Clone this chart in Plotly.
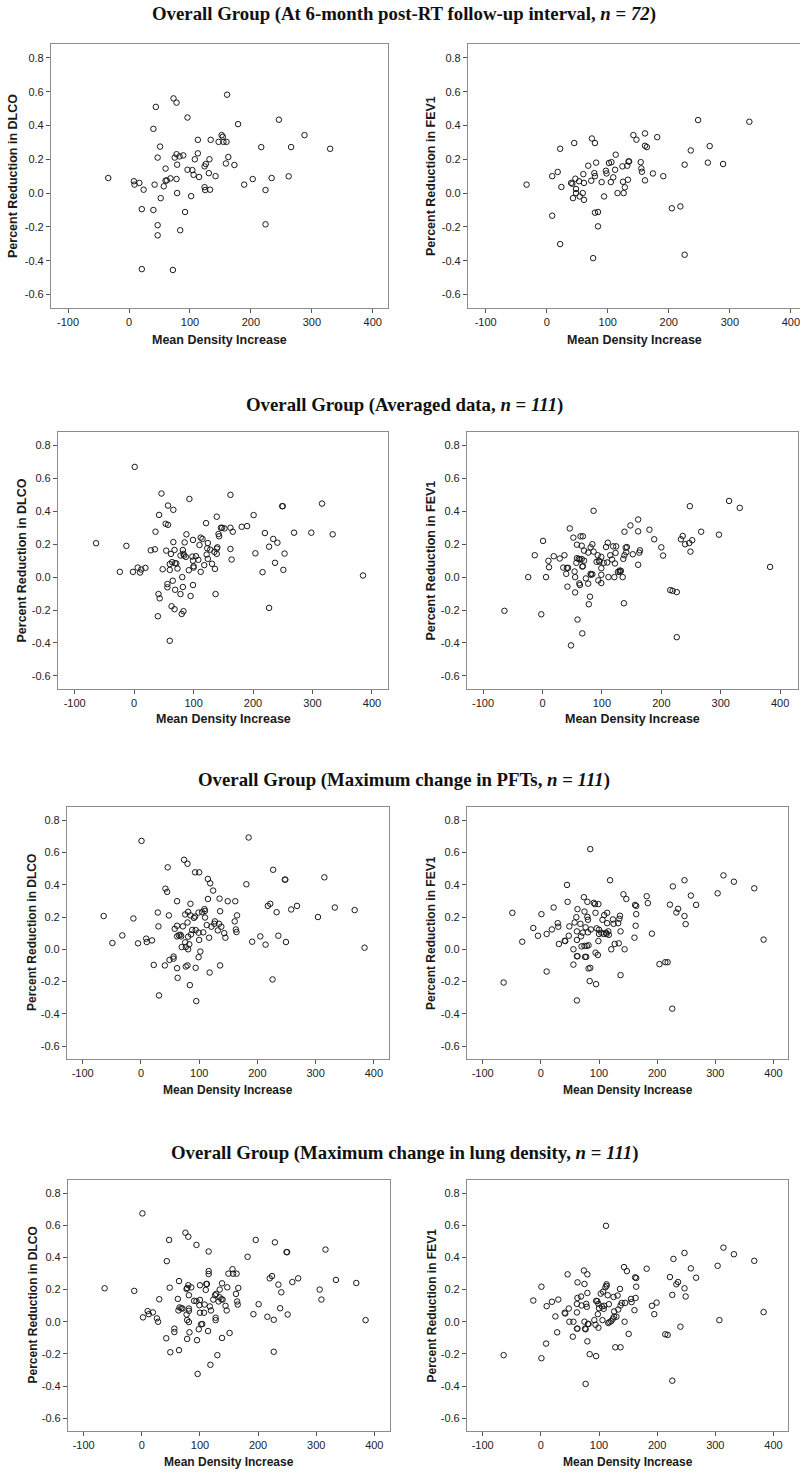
import plotly.graph_objects as go

# ---------------- data ----------------
x_ticks = [-100, 0, 100, 200, 300, 400]
x_tick_labels = ["-100", "0", "100", "200", "300", "400"]
y_ticks = [-0.6, -0.4, -0.2, 0.0, 0.2, 0.4, 0.6, 0.8]
y_tick_labels = ["-0.6", "-0.4", "-0.2", "0.0", "0.2", "0.4", "0.6", "0.8"]

x_label = "Mean Density Increase"
y_label_dlco = "Percent Reduction in DLCO"
y_label_fev1 = "Percent Reduction in FEV1"

row_titles = [
    "Overall Group (At 6-month post-RT follow-up interval, <i>n</i> = <i>72</i>)",
    "Overall Group (Averaged data, <i>n</i> = <i>111</i>)",
    "Overall Group (Maximum change in PFTs, <i>n</i> = <i>111</i>)",
    "Overall Group (Maximum change in lung density, <i>n</i> = <i>111</i>)",
]

# Row 1: 6-month follow-up, DLCO
six_month_dlco = [
    (-34, 0.089), (8, 0.07), (9, 0.05), (17, 0.06), (24, 0.02), (21, -0.095), (21, -0.45),
    (40, 0.38), (44, 0.51), (40, -0.1), (42, 0.05), (47, 0.21), (51, 0.275), (47, -0.19),
    (47, -0.25), (52, -0.03), (60, 0.145), (57, 0.04), (60, 0.073), (62, 0.075), (68, 0.087),
    (73, 0.56), (78, 0.535), (72, -0.455), (75, 0.21), (78, 0.23), (79, 0.168), (78, 0.083),
    (79, 0.0), (83, 0.217), (89, 0.223), (84, -0.22), (92, -0.112), (96, 0.447), (96, 0.138),
    (102, -0.018), (104, 0.136), (106, 0.108), (108, 0.2), (113, 0.235), (113, 0.315),
    (115, 0.095), (124, 0.158), (126, 0.172), (124, 0.035), (125, 0.018), (131, 0.118),
    (132, 0.2), (134, 0.315), (133, 0.02), (142, 0.1), (147, 0.303), (152, 0.343), (154, 0.333),
    (155, 0.303), (160, 0.303), (161, 0.582), (159, 0.175), (163, 0.213), (173, 0.166),
    (179, 0.408), (189, 0.05), (203, 0.083), (217, 0.272), (224, 0.018), (224, -0.185),
    (234, 0.089), (246, 0.434), (262, 0.099), (266, 0.272), (288, 0.343), (330, 0.262),
]

# Row 1: 6-month follow-up, FEV1
six_month_fev1 = [
    (-33, 0.05), (9, -0.134), (9, 0.1), (18, 0.125), (22, 0.262), (22, -0.302), (24, 0.036),
    (40, 0.06), (42, 0.055), (43, -0.03), (45, 0.296), (47, 0.085), (48, 0.024), (48, 0.0),
    (53, 0.07), (54, -0.02), (59, 0.0), (60, 0.112), (61, 0.06), (61, -0.04), (68, 0.162),
    (73, 0.073), (74, 0.323), (76, -0.385), (79, 0.296), (78, 0.118), (79, 0.1), (81, 0.18),
    (79, -0.116), (84, -0.112), (84, -0.197), (90, 0.065), (94, -0.02), (97, 0.132),
    (98, 0.116), (102, 0.178), (106, 0.183), (105, 0.065), (109, 0.093), (113, 0.227),
    (112, 0.138), (116, 0.0), (124, 0.158), (125, 0.067), (126, 0.0), (128, 0.034),
    (132, 0.162), (133, 0.079), (135, 0.187), (134, 0.187), (142, 0.343), (147, 0.316),
    (154, 0.183), (155, 0.146), (156, 0.126), (161, 0.353), (161, 0.28), (164, 0.272),
    (161, 0.075), (174, 0.116), (181, 0.331), (191, 0.1), (205, -0.09), (219, -0.079),
    (226, 0.168), (226, -0.365), (236, 0.252), (248, 0.432), (264, 0.18), (267, 0.278),
    (289, 0.172), (332, 0.422),
]

# Row 2: averaged data, DLCO
averaged_dlco = [
    (-64, 0.206), (-24, 0.032), (-13, 0.19), (-2, 0.032), (1, 0.67), (6, 0.058), (10, 0.028),
    (12, 0.046), (19, 0.056), (28, 0.163), (35, 0.169), (36, 0.276), (42, 0.378), (41, -0.103),
    (43, -0.129), (40, -0.238), (46, 0.508), (48, 0.048), (53, 0.324), (54, 0.161),
    (56, -0.042), (56, -0.062), (57, 0.435), (57, 0.318), (60, 0.079), (60, 0.044),
    (60, -0.387), (62, 0.141), (64, 0.091), (63, -0.177), (65, -0.022), (66, 0.213),
    (66, 0.409), (68, 0.165), (68, -0.195), (69, -0.077), (71, 0.083), (69, 0.085),
    (73, 0.052), (78, -0.103), (78, 0.131), (80, -0.224), (81, 0.0), (82, 0.165), (82, -0.06),
    (83, 0.141), (83, -0.207), (84, 0.131), (85, 0.211), (87, 0.123), (88, 0.26), (92, 0.042),
    (93, 0.475), (95, -0.115), (98, 0.125), (99, 0.226), (99, 0.1), (99, -0.048), (100, 0.058),
    (100, 0.066), (104, 0.127), (108, 0.105), (110, 0.195), (112, 0.24), (112, 0.032),
    (115, 0.232), (118, 0.073), (121, 0.328), (122, 0.137), (124, 0.207), (123, 0.175),
    (124, 0.111), (128, 0.167), (131, 0.081), (135, 0.153), (136, 0.05), (137, -0.103),
    (139, 0.367), (139, 0.173), (139, 0.141), (142, 0.262), (143, 0.248), (140, 0.181),
    (148, 0.3), (152, 0.296), (162, 0.5), (162, 0.3), (162, 0.171), (164, 0.107), (166, 0.276),
    (181, 0.306), (190, 0.31), (201, 0.377), (204, 0.145), (216, 0.03), (220, 0.268),
    (227, 0.185), (227, -0.187), (234, 0.232), (237, 0.087), (241, 0.209), (249, 0.431),
    (250, 0.431), (251, 0.044), (253, 0.143), (269, 0.27), (298, 0.27), (316, 0.447),
    (334, 0.26), (385, 0.01), (146, 0.3),
]

# Row 2: averaged data, FEV1
averaged_fev1 = [
    (-64, -0.205), (-24, 0.0), (-13, 0.133), (-2, -0.226), (1, 0.22), (6, 0.0), (10, 0.099),
    (11, 0.06), (19, 0.127), (29, 0.113), (35, 0.058), (37, 0.133), (40, 0.02), (41, 0.056),
    (43, 0.056), (42, -0.058), (46, 0.296), (48, -0.415), (52, 0.24), (54, 0.034), (55, 0.0),
    (55, -0.093), (57, 0.087), (58, 0.115), (58, 0.197), (59, -0.258), (61, 0.111),
    (62, -0.038), (63, 0.107), (63, -0.048), (64, 0.248), (66, 0.191), (67, 0.064),
    (67, -0.342), (68, 0.248), (68, 0.066), (70, 0.161), (70, 0.1), (73, -0.008), (77, 0.149),
    (77, -0.04), (78, -0.165), (80, -0.119), (81, 0.181), (81, 0.02), (82, 0.014), (84, 0.018),
    (84, 0.2), (86, 0.155), (86, 0.403), (91, 0.093), (93, 0.133), (94, -0.02), (96, 0.093),
    (99, 0.123), (99, 0.054), (99, 0.014), (99, -0.036), (103, 0.087), (107, 0.183),
    (109, 0.089), (110, 0.209), (111, 0.0), (114, 0.133), (117, 0.107), (119, 0.187),
    (121, 0.0), (122, 0.083), (123, 0.147), (124, 0.187), (127, 0.032), (130, 0.032),
    (132, 0.038), (135, 0.0), (136, 0.111), (137, -0.159), (138, 0.276), (138, 0.133),
    (140, 0.179), (142, 0.183), (141, 0.151), (148, 0.314), (152, 0.139), (161, 0.35),
    (161, 0.278), (161, 0.075), (163, 0.149), (164, 0.163), (180, 0.288), (188, 0.23),
    (200, 0.181), (203, 0.131), (215, -0.079), (219, -0.083), (226, -0.091), (226, -0.365),
    (233, 0.23), (236, 0.25), (240, 0.2), (247, 0.207), (248, 0.431), (249, 0.155),
    (252, 0.224), (267, 0.276), (297, 0.258), (314, 0.463), (332, 0.421), (383, 0.062),
    (95, 0.1), (66, 0.11), (130, 0.04),
]

# Row 3: maximum change in PFTs, DLCO
max_pft_dlco = [
    (-64, 0.206), (-49, 0.039), (-32, 0.086), (-13, 0.191), (-5, 0.037), (1, 0.672), (9, 0.066),
    (10, 0.045), (19, 0.055), (22, -0.097), (29, 0.228), (30, 0.142), (31, -0.286), (41, -0.1),
    (42, 0.376), (45, 0.356), (46, 0.508), (48, 0.21), (49, -0.066), (56, -0.045),
    (56, -0.058), (58, 0.127), (62, 0.298), (62, 0.146), (62, 0.08), (62, -0.117),
    (63, -0.177), (65, 0.088), (70, 0.014), (69, 0.08), (72, 0.142), (74, 0.555), (76, 0.043),
    (76, 0.216), (77, 0.014), (77, -0.107), (80, -0.1), (80, 0.53), (80, 0.166), (81, 0.232),
    (81, 0.0), (81, 0.078), (83, 0.031), (85, 0.282), (85, 0.21), (84, -0.222), (86, 0.092),
    (91, 0.195), (93, 0.477), (93, 0.203), (94, 0.119), (94, -0.115), (95, -0.321),
    (99, 0.228), (99, 0.103), (100, 0.477), (99, -0.049), (100, 0.058), (102, -0.014),
    (107, 0.105), (109, 0.249), (110, 0.197), (110, 0.238), (113, 0.15), (115, 0.436),
    (115, 0.312), (117, 0.072), (118, -0.144), (119, 0.409), (121, 0.14), (124, 0.364),
    (126, 0.158), (127, 0.173), (132, 0.117), (134, 0.158), (135, 0.314), (136, 0.236),
    (136, -0.1), (138, 0.14), (143, 0.1), (145, 0.072), (149, 0.298), (161, 0.173),
    (162, 0.298), (163, 0.123), (164, 0.107), (165, 0.21), (181, 0.403), (185, 0.693),
    (191, 0.047), (205, 0.08), (214, 0.029), (218, 0.269), (222, 0.282), (226, -0.187),
    (227, 0.493), (233, 0.23), (236, 0.084), (247, 0.432), (248, 0.432), (249, 0.045),
    (258, 0.247), (268, 0.269), (304, 0.2), (315, 0.446), (333, 0.259), (367, 0.243),
    (384, 0.01), (88, 0.12), (68, 0.09), (105, 0.23),
]

# Row 3: maximum change in PFTs, FEV1
max_pft_fev1 = [
    (-64, -0.206), (-49, 0.226), (-32, 0.047), (-13, 0.132), (-5, 0.084), (1, 0.218),
    (10, -0.138), (10, 0.095), (19, 0.123), (22, 0.259), (29, 0.162), (30, 0.14), (31, 0.033),
    (41, 0.053), (42, 0.051), (45, 0.399), (46, 0.294), (48, 0.084), (49, 0.142), (56, -0.095),
    (56, 0.0), (58, 0.166), (61, 0.199), (62, 0.111), (62, 0.058), (62, -0.043), (63, -0.043),
    (62, -0.317), (63, 0.249), (68, 0.158), (69, 0.08), (70, 0.018), (72, 0.103), (74, 0.323),
    (75, 0.234), (75, 0.021), (76, -0.047), (78, -0.047), (77, 0.136), (79, 0.021), (80, 0.294),
    (80, 0.201), (81, 0.183), (81, 0.105), (82, 0.025), (82, -0.119), (84, -0.197),
    (85, -0.115), (85, 0.621), (86, 0.123), (91, 0.288), (93, 0.28), (94, 0.226), (94, -0.021),
    (95, -0.216), (96, 0.13), (99, 0.28), (100, 0.095), (99, 0.051), (98, -0.035), (100, 0.121),
    (104, 0.103), (106, 0.183), (108, 0.095), (109, 0.212), (112, 0.103), (113, 0.095),
    (114, 0.226), (114, 0.162), (116, 0.111), (117, 0.09), (119, 0.428), (121, 0.0),
    (124, 0.185), (125, 0.158), (127, 0.033), (133, 0.162), (134, 0.037), (135, 0.189),
    (136, 0.208), (137, 0.111), (137, -0.16), (142, 0.341), (144, 0.0), (147, 0.312),
    (161, 0.072), (162, 0.275), (164, 0.269), (163, 0.146), (164, 0.218), (182, 0.329),
    (184, 0.286), (191, 0.097), (204, -0.092), (214, -0.08), (218, -0.08), (222, 0.277),
    (226, -0.368), (227, 0.39), (233, 0.228), (236, 0.251), (247, 0.206), (247, 0.428),
    (249, 0.156), (258, 0.333), (267, 0.275), (304, 0.347), (314, 0.458), (332, 0.419),
    (367, 0.378), (383, 0.06),
]

# Row 4: maximum change in lung density, DLCO
max_density_dlco = [
    (-64, 0.208), (-13, 0.192), (1, 0.674), (2, 0.027), (10, 0.066), (12, 0.047), (19, 0.058),
    (26, 0.021), (28, 0.0), (30, 0.14), (42, -0.103), (43, 0.377), (47, 0.509), (48, 0.212),
    (49, -0.19), (56, -0.043), (56, -0.064), (62, 0.142), (63, 0.07), (64, 0.253),
    (64, -0.177), (65, 0.089), (68, 0.084), (70, 0.082), (75, 0.554), (77, 0.045), (77, 0.204),
    (78, 0.01), (78, -0.107), (78, 0.21), (80, 0.529), (80, 0.227), (81, 0.068), (81, 0.082),
    (81, 0.165), (81, -0.002), (82, -0.066), (85, 0.214), (94, 0.478), (95, -0.115),
    (96, -0.325), (94, 0.128), (98, -0.047), (100, 0.227), (100, 0.136), (99, 0.103),
    (100, 0.056), (102, -0.016), (104, -0.014), (107, 0.056), (108, 0.107), (110, 0.198),
    (111, 0.235), (112, 0.235), (115, 0.297), (115, 0.315), (114, -0.058), (115, 0.437),
    (117, 0.095), (118, -0.268), (119, 0.07), (123, 0.138), (126, 0.165), (127, 0.025),
    (127, 0.01), (128, 0.173), (130, -0.208), (132, 0.126), (134, 0.2), (134, 0.152),
    (137, 0.14), (138, 0.239), (139, 0.138), (138, -0.101), (144, 0.099), (146, 0.07),
    (147, 0.214), (149, 0.299), (151, -0.07), (156, 0.327), (157, 0.299), (163, 0.299),
    (162, 0.173), (164, 0.126), (165, 0.107), (166, 0.21), (182, 0.404), (192, 0.047),
    (196, 0.509), (201, 0.109), (216, 0.031), (220, 0.27), (224, 0.284), (227, 0.012),
    (227, -0.187), (229, 0.494), (235, 0.231), (238, 0.084), (240, 0.183), (249, 0.433),
    (250, 0.433), (251, 0.045), (259, 0.247), (269, 0.27), (306, 0.2), (309, 0.138),
    (316, 0.449), (334, 0.26), (369, 0.241), (385, 0.01), (90, 0.13),
]

# Row 4: maximum change in lung density, FEV1
max_density_fev1 = [
    (-64, -0.208), (-13, 0.132), (1, 0.218), (1, -0.227), (9, -0.136), (10, 0.097), (19, 0.124),
    (25, 0.033), (28, -0.066), (30, 0.138), (41, 0.056), (42, 0.051), (46, 0.295), (48, 0.082),
    (49, 0.0), (55, -0.093), (56, 0.0), (62, 0.111), (62, 0.058), (62, -0.043), (63, -0.043),
    (63, 0.245), (63, 0.148), (69, 0.157), (70, 0.101), (74, 0.319), (75, 0.235), (75, 0.0),
    (76, -0.043), (77, -0.047), (77, -0.387), (78, 0.111), (79, 0.093), (80, 0.295),
    (80, 0.179), (80, -0.122), (81, -0.014), (82, -0.014), (84, -0.202), (92, 0.01),
    (94, -0.019), (95, -0.214), (95, 0.13), (97, 0.128), (99, 0.111), (98, 0.047),
    (99, -0.037), (100, 0.084), (103, 0.175), (105, 0.095), (106, 0.01), (107, 0.187),
    (108, 0.08), (109, 0.099), (111, 0.214), (112, 0.597), (113, 0.233), (113, 0.223),
    (115, 0.165), (116, -0.008), (117, 0.109), (118, -0.002), (121, 0.004), (124, 0.019),
    (125, 0.154), (126, 0.031), (126, 0.064), (128, -0.159), (130, 0.031), (132, 0.163),
    (133, 0.076), (136, 0.204), (137, -0.159), (137, 0.101), (139, 0.117), (143, 0.34),
    (144, 0.0), (145, 0.117), (148, 0.315), (151, -0.076), (155, 0.142), (156, 0.122),
    (161, 0.072), (162, 0.276), (164, 0.272), (163, 0.148), (164, 0.218), (182, 0.33),
    (191, 0.099), (195, 0.047), (199, 0.119), (214, -0.078), (218, -0.082), (222, 0.278),
    (226, 0.167), (226, -0.367), (228, 0.391), (233, 0.233), (236, 0.247), (240, -0.031),
    (247, 0.208), (247, 0.428), (249, 0.157), (258, 0.332), (267, 0.274), (304, 0.348),
    (307, 0.01), (314, 0.461), (332, 0.42), (367, 0.379), (383, 0.06),
]

# ---------------- layout (pixel geometry) ----------------
W, H = 800, 1474

# (points, box [x0, y0, x1, y1] in px, x range, y label, x-title y px, y-title x px, title size)
panels = [
    (six_month_dlco,   (51, 44, 388, 308),    [-128, 425], y_label_dlco, 340, 13, 12.5),
    (six_month_fev1,   (468, 44, 800, 308),   [-129, 415], y_label_fev1, 340, 431, 12.5),
    (averaged_dlco,    (58, 432, 388, 689),   [-128, 427], y_label_dlco, 719, 21, 12.5),
    (averaged_fev1,    (467, 432, 798, 689),  [-127, 430], y_label_fev1, 719, 430, 12.5),
    (max_pft_dlco,     (67, 807, 389, 1059),  [-127, 426], y_label_dlco, 1090, 32, 12),
    (max_pft_fev1,     (467, 807, 788, 1059), [-127, 425], y_label_fev1, 1090, 431, 12),
    (max_density_dlco, (68, 1180, 390, 1431), [-127, 427], y_label_dlco, 1462, 32, 12),
    (max_density_fev1, (467, 1180, 788, 1431), [-127, 425], y_label_fev1, 1462, 431, 12),
]
y_range = [-0.68, 0.882]
row_title_y = [14, 405, 780, 1153]

tick_font = dict(family="Liberation Sans, Arial, sans-serif", size=11, color="#222222")
frame_color = "#8c8c8c"

fig = go.Figure()
annotations = []
layout_axes = {}

for i, (pts, box, xr, ylab, xt_y, yt_x, tsize) in enumerate(panels):
    n = i + 1
    sfx = "" if n == 1 else str(n)
    x0, y0, x1, y1 = box
    fig.add_trace(go.Scatter(
        x=[p[0] for p in pts], y=[p[1] for p in pts],
        mode="markers",
        marker=dict(symbol="circle-open", size=5.5, color="#1a1a1a", line=dict(width=1)),
        xaxis="x" + sfx, yaxis="y" + sfx, showlegend=False, hoverinfo="x+y",
    ))
    layout_axes["xaxis" + sfx] = dict(
        domain=[x0 / W, min(x1 / W, 1.0)], range=xr, anchor="y" + sfx,
        tickmode="array", tickvals=x_ticks, ticktext=x_tick_labels,
        ticks="outside", ticklen=4, tickcolor="#555555", tickwidth=1,
        ticklabeloverflow="allow",
        showline=True, mirror=True, linecolor=frame_color, linewidth=1.2,
        showgrid=False, zeroline=False, tickfont=tick_font, fixedrange=True,
    )
    layout_axes["yaxis" + sfx] = dict(
        domain=[1 - y1 / H, 1 - y0 / H], range=y_range, anchor="x" + sfx,
        tickmode="array", tickvals=y_ticks, ticktext=y_tick_labels,
        ticks="outside", ticklen=4, tickcolor="#555555", tickwidth=1,
        ticklabeloverflow="allow",
        showline=True, mirror=True, linecolor=frame_color, linewidth=1.2,
        showgrid=False, zeroline=False, tickfont=tick_font, fixedrange=True,
    )
    # axis titles
    annotations.append(dict(
        text="<b>" + x_label + "</b>", xref="paper", yref="paper",
        x=((x0 + min(x1, W)) / 2) / W, y=1 - xt_y / H, xanchor="center", yanchor="middle",
        showarrow=False, font=dict(family="Liberation Sans, Arial, sans-serif", size=tsize, color="#1a1a1a"),
    ))
    annotations.append(dict(
        text="<b>" + ylab + "</b>", xref="paper", yref="paper",
        x=yt_x / W, y=1 - ((y0 + y1) / 2) / H, xanchor="center", yanchor="middle",
        textangle=-90, showarrow=False,
        font=dict(family="Liberation Sans, Arial, sans-serif", size=tsize, color="#1a1a1a"),
    ))

for t, ty in zip(row_titles, row_title_y):
    annotations.append(dict(
        text="<b>" + t + "</b>", xref="paper", yref="paper",
        x=404 / W, y=1 - ty / H, xanchor="center", yanchor="middle", showarrow=False,
        font=dict(family="Liberation Serif, Times New Roman, serif", size=18.8, color="#111111"),
    ))

fig.update_layout(
    width=W, height=H,
    margin=dict(l=0, r=0, t=0, b=0),
    paper_bgcolor="white", plot_bgcolor="white",
    annotations=annotations,
    **layout_axes,
)

fig.write_html("out.html")
